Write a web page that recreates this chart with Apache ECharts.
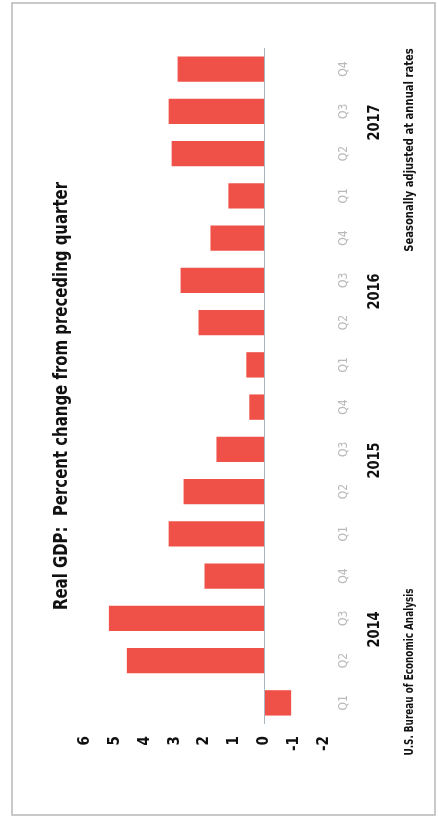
<!DOCTYPE html>
<html>
<head>
<meta charset="utf-8">
<title>Real GDP: Percent change from preceding quarter</title>
<script src="https://cdn.jsdelivr.net/npm/echarts@6/dist/echarts.min.js"></script>
<style>
  html, body { margin: 0; padding: 0; background: #ffffff; }
  #chart { width: 438px; height: 817px; }
</style>
</head>
<body>
<div id="chart"></div>
<script>
// Quarterly real GDP growth, seasonally adjusted at annual rates (percent)
const quarterLabels = ['Q1', 'Q2', 'Q3', 'Q4', 'Q1', 'Q2', 'Q3', 'Q4',
                       'Q1', 'Q2', 'Q3', 'Q4', 'Q1', 'Q2', 'Q3', 'Q4'];
const yearLabels = ['2014', '2015', '2016', '2017'];
const gdpChange = [-0.9, 4.6, 5.2, 2.0,
                    3.2, 2.7, 1.6, 0.5,
                    0.6, 2.2, 2.8, 1.8,
                    1.2, 3.1, 3.2, 2.9];
const valueMin = -2;
const valueMax = 6;
const valueStep = 1;

const titleText = 'Real GDP:  Percent change from preceding quarter';
const noteText = 'Seasonally adjusted at annual rates';
const sourceText = 'U.S. Bureau of Economic Analysis';

const boldFace = "'DejaVu Sans Condensed', 'Liberation Sans', sans-serif";

const chart = echarts.init(document.getElementById('chart'), null, { renderer: 'canvas' });

// Sideways text helper: reads bottom-to-top, squeezed along its length
function uprightText(x, y, text, size, squeeze) {
  return {
    type: 'text',
    x: x, y: y,
    rotation: Math.PI / 2,
    scaleX: squeeze,
    silent: true,
    style: {
      text: text,
      fill: '#111111',
      font: 'bold ' + size + 'px ' + boldFace,
      align: 'center',
      verticalAlign: 'middle'
    }
  };
}

// The chart is laid out sideways: values grow to the left,
// quarters run from bottom to top, and every text reads upward.
const option = {
  animation: false,
  backgroundColor: '#ffffff',
  grid: { left: 85, right: 114, top: 48, bottom: 93, containLabel: false },
  xAxis: {
    type: 'value',
    inverse: true,
    min: valueMin,
    max: valueMax,
    interval: valueStep,
    position: 'bottom',
    axisLine: { show: false },
    axisTick: { show: false },
    splitLine: { show: false },
    axisLabel: {
      rotate: 90,
      margin: 12,
      color: '#111111',
      fontFamily: boldFace,
      fontWeight: 'bold',
      fontSize: 15
    }
  },
  yAxis: {
    type: 'category',
    data: quarterLabels,
    position: 'right',
    axisLine: { show: false },
    axisTick: { show: false },
    splitLine: { show: false },
    axisLabel: {
      interval: 0,
      rotate: 90,
      margin: 14,
      color: '#b9b9b9',
      fontFamily: "'DejaVu Sans Condensed', sans-serif",
      fontSize: 12
    }
  },
  series: [
    {
      type: 'bar',
      data: gdpChange,
      barWidth: '60%',
      itemStyle: { color: '#ef5047' },
      markLine: {
        silent: true,
        symbol: ['none', 'none'],
        label: { show: false },
        lineStyle: { color: '#aab6bf', width: 1, type: 'solid' },
        data: [{ xAxis: 0 }]
      }
    }
  ],
  graphic: [
    {
      type: 'rect',
      shape: { x: 12, y: 3, width: 423, height: 812 },
      style: { fill: 'none', stroke: '#b8b8b8', lineWidth: 1.5 },
      silent: true
    },
    uprightText(62, 396, titleText, 19, 0.873),
    uprightText(410, 150, noteText, 12, 0.93),
    uprightText(410, 672, sourceText, 12, 0.82)
  ]
};

chart.setOption(option);

// Year captions sit beside their quarters, centred near the Q2/Q3 boundary
const yearGraphics = yearLabels.map(function (year, i) {
  const q2 = chart.convertToPixel({ yAxisIndex: 0 }, i * 4 + 1);
  const q3 = chart.convertToPixel({ yAxisIndex: 0 }, i * 4 + 2);
  return uprightText(375, (q2 + q3) / 2 - 10, year, 16, 0.9);
});
chart.setOption({ graphic: option.graphic.concat(yearGraphics) });
</script>
</body>
</html>
